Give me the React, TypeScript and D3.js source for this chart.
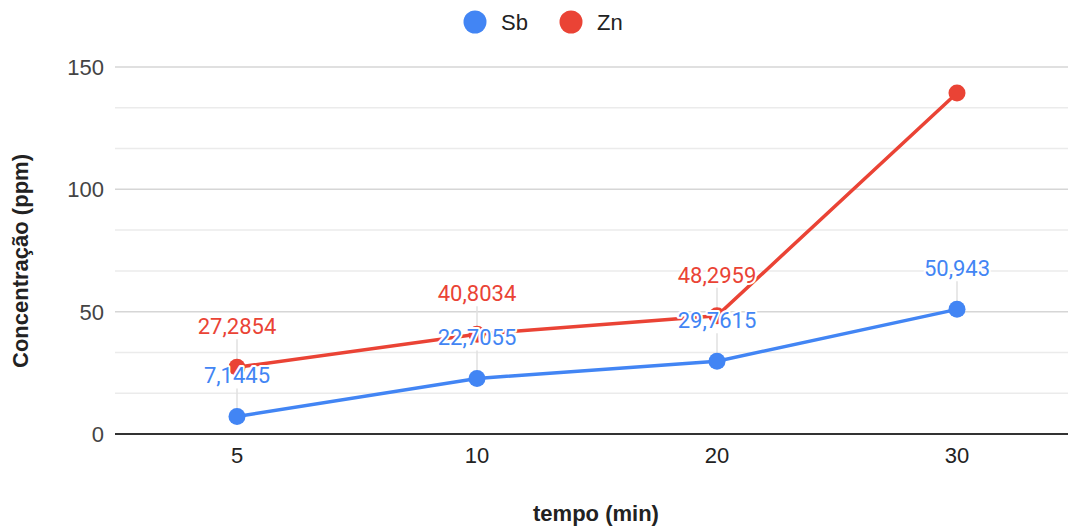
import React from "react"
import * as d3 from "d3"

// data
const categories = ["5", "10", "20", "30"]
const sbValues = [7.1445, 22.7055, 29.7615, 50.943]
const znValues = [27.2854, 40.8034, 48.2959, 139.4]
const yMajorTicks = [0, 50, 100, 150]

const series = [
    { name: "Sb", color: "#4285F4", values: sbValues },
    { name: "Zn", color: "#EA4335", values: znValues },
]

const width = 1068
const height = 526
const plotLeft = 115
const plotRight = 1068
const axisFont = "'Liberation Sans', Arial, sans-serif"
const labelFont = "Roboto, 'Liberation Sans', sans-serif"

export default function App() {
    const x = d3.scalePoint<string>().domain(categories).range([117, 1077]).padding(0.5)
    const y = d3.scaleLinear().domain([0, 150]).range([434, 67])

    // minor gridlines: two between each major tick
    const minor: number[] = []
    for (let i = 0; i < yMajorTicks.length - 1; i++) {
        const step = (yMajorTicks[i + 1] - yMajorTicks[i]) / 3
        minor.push(yMajorTicks[i] + step, yMajorTicks[i] + 2 * step)
    }

    const line = d3
        .line<number>()
        .x((_, i) => x(categories[i])!)
        .y((d) => y(d))

    const fmt = (v: number) => String(v).replace(".", ",")

    return (
        <svg width={width} height={height} style={{ position: "absolute", left: 0, top: 0, background: "#fff" }}>
            {/* gridlines */}
            {minor.map((t) => (
                <line key={"m" + t} x1={plotLeft} x2={plotRight} y1={y(t)} y2={y(t)} stroke="#ebebeb" strokeWidth={1.5} />
            ))}
            {yMajorTicks.filter((t) => t !== 0).map((t) => (
                <line key={"g" + t} x1={plotLeft} x2={plotRight} y1={y(t)} y2={y(t)} stroke="#d6d6d6" strokeWidth={1.5} />
            ))}

            {/* y tick labels */}
            {yMajorTicks.map((t) => (
                <text key={"yt" + t} x={104} y={y(t)} dy="0.36em" textAnchor="end" fontFamily={axisFont} fontSize={22} fill="#444">
                    {t}
                </text>
            ))}

            {/* x tick labels */}
            {categories.map((c) => (
                <text key={"xt" + c} x={x(c)} y={463} textAnchor="middle" fontFamily={axisFont} fontSize={22} fill="#222">
                    {c}
                </text>
            ))}

            {/* leader lines for data labels */}
            {series.map((s) =>
                s.values.map((v, i) =>
                    y(v) - 41 < y(150) ? null : (
                        <line key={"ll" + s.name + i} x1={x(categories[i])} x2={x(categories[i])} y1={y(v) - 28} y2={y(v) - 6} stroke="#e0e0e0" strokeWidth={1.5} />
                    )
                )
            )}

            {/* baseline */}
            <line x1={plotLeft} x2={plotRight} y1={y(0)} y2={y(0)} stroke="#333" strokeWidth={2} />

            {/* lines */}
            {series.map((s) => (
                <path key={"l" + s.name} d={line(s.values)!} fill="none" stroke={s.color} strokeWidth={3.5} />
            ))}

            {/* points */}
            {series.map((s) =>
                s.values.map((v, i) => <circle key={"p" + s.name + i} cx={x(categories[i])} cy={y(v)} r={8.5} fill={s.color} />)
            )}

            {/* data labels */}
            {series.map((s) =>
                s.values.map((v, i) =>
                    y(v) - 41 < y(150) ? null : (
                        <text
                            key={"dl" + s.name + i}
                            x={x(categories[i])}
                            y={y(v) - 41}
                            dy="0.36em"
                            textAnchor="middle"
                            fontFamily={labelFont}
                            fontSize={22}
                            fill={s.color}
                            stroke="#fff"
                            strokeWidth={4}
                            strokeLinejoin="round"
                            paintOrder="stroke"
                        >
                            {fmt(v)}
                        </text>
                    )
                )
            )}

            {/* legend */}
            {series.map((s, i) => (
                <g key={"lg" + s.name} transform={`translate(${475 + i * 96},22)`}>
                    <circle r={11.5} fill={s.color} />
                    <text x={26} dy="0.36em" fontFamily={axisFont} fontSize={22} fill="#222">
                        {s.name}
                    </text>
                </g>
            ))}

            {/* axis titles */}
            <text x={596} y={521} textAnchor="middle" fontFamily={axisFont} fontSize={22} fontWeight="bold" fill="#222">
                tempo (min)
            </text>
            <text transform="translate(28,261) rotate(-90)" textAnchor="middle" fontFamily={axisFont} fontSize={22} fontWeight="bold" fill="#222">
                Concentração (ppm)
            </text>
        </svg>
    )
}
